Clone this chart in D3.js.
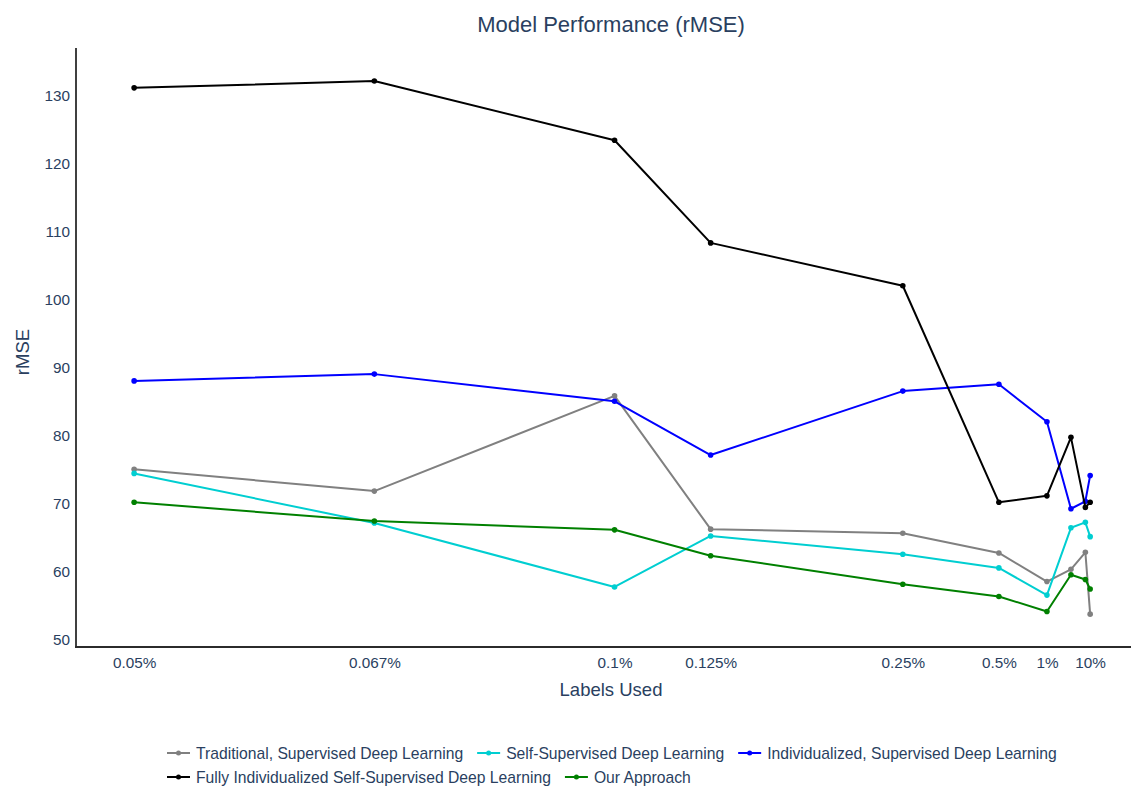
<!DOCTYPE html>
<html>
<head>
<meta charset="utf-8">
<script src="https://cdn.jsdelivr.net/npm/d3@7"></script>
<style>
  body { margin: 0; background: #fff; }
  text { font-family: "Liberation Sans", Arial, sans-serif; fill: #2a3f5f; }
</style>
</head>
<body>
<script>
// x = "1 label in N samples", shown as percentage of labels used
var labelsOneIn = [2000, 1500, 1000, 800, 400, 200, 100, 50, 20, 10];
var tickVals = [2000, 1500, 1000, 800, 400, 200, 100, 10];
var tickLabels = ["0.05%", "0.067%", "0.1%", "0.125%", "0.25%", "0.5%", "1%", "10%"];
var yTicks = [50, 60, 70, 80, 90, 100, 110, 120, 130];

var traditional = [75.1, 71.9, 85.9, 66.3, 65.7, 62.8, 58.6, 60.4, 62.9, 53.8];
var selfSupervised = [74.5, 67.2, 57.8, 65.3, 62.6, 60.6, 56.6, 66.5, 67.3, 65.2];
var individualized = [88.1, 89.1, 85.1, 77.2, 86.6, 87.6, 82.1, 69.3, 70.4, 74.2];
var fullyIndividualized = [131.2, 132.2, 123.5, 108.4, 102.1, 70.25, 71.2, 79.8, 69.5, 70.25];
var ourApproach = [70.25, 67.5, 66.2, 62.4, 58.2, 56.4, 54.2, 59.6, 58.9, 57.5];

var series = [
  {name: "Traditional, Supervised Deep Learning", values: traditional, color: "gray"},
  {name: "Self-Supervised Deep Learning", values: selfSupervised, color: "darkturquoise"},
  {name: "Individualized, Supervised Deep Learning", values: individualized, color: "blue"},
  {name: "Fully Individualized Self-Supervised Deep Learning", values: fullyIndividualized, color: "black"},
  {name: "Our Approach", values: ourApproach, color: "green"}
];

var W = 1133, H = 788;
var plotLeft = 76, plotRight = 1131, plotTop = 48, plotBottom = 647;

var svg = d3.select("body").append("svg")
  .attr("width", W).attr("height", H);

var x = d3.scaleLinear().domain([2121, -75]).range([plotLeft, plotRight]);
var y = d3.scaleLinear().domain([48.97, 137.06]).range([plotBottom, plotTop]);

// axes
var xAxis = d3.axisBottom(x).tickValues(tickVals)
  .tickFormat(function(d, i) { return tickLabels[i]; })
  .tickSize(0).tickPadding(10);
var gx = svg.append("g").attr("transform", "translate(0," + plotBottom + ")").call(xAxis);
gx.select(".domain").remove();
gx.selectAll("text").style("font-size", "15.3px").attr("fill", "#2a3f5f")
  .style("font-family", "'Liberation Sans', Arial, sans-serif");

var yAxis = d3.axisLeft(y).tickValues(yTicks).tickSize(0).tickPadding(6);
var gy = svg.append("g").attr("transform", "translate(" + plotLeft + ",0)").call(yAxis);
gy.select(".domain").remove();
gy.selectAll("text").style("font-size", "15.3px").attr("fill", "#2a3f5f")
  .style("font-family", "'Liberation Sans', Arial, sans-serif");

svg.append("line")
  .attr("x1", plotLeft).attr("x2", plotLeft).attr("y1", plotTop).attr("y2", plotBottom + 1)
  .style("stroke", "black").style("stroke-width", 1.5);
svg.append("line")
  .attr("x1", plotLeft - 1).attr("x2", plotRight).attr("y1", plotBottom).attr("y2", plotBottom)
  .style("stroke", "#2b2b2b").style("stroke-width", 2);

// lines + markers
var line = d3.line()
  .x(function(d, i) { return x(labelsOneIn[i]); })
  .y(function(d) { return y(d); });

series.forEach(function(s) {
  var g = svg.append("g");
  g.append("path")
    .attr("d", line(s.values))
    .attr("fill", "none")
    .style("stroke", s.color)
    .style("stroke-width", 2)
    .style("stroke-linejoin", "round");
  g.selectAll("circle")
    .data(s.values)
    .enter()
    .append("circle")
    .attr("cx", function(d, i) { return x(labelsOneIn[i]); })
    .attr("cy", function(d) { return y(d); })
    .attr("r", 2.8)
    .attr("fill", s.color);
});

// titles
svg.append("text").attr("x", 611).attr("y", 32)
  .attr("text-anchor", "middle").style("font-size", "22px")
  .text("Model Performance (rMSE)");
svg.append("text").attr("x", 611).attr("y", 696)
  .attr("text-anchor", "middle").style("font-size", "18.5px")
  .text("Labels Used");
svg.append("text")
  .attr("transform", "translate(29,352) rotate(-90)")
  .attr("text-anchor", "middle").style("font-size", "18.5px")
  .text("rMSE");

// legend
var rows = [[0, 1, 2], [3, 4]];
var legendX = 167, rowY = [753, 777];
rows.forEach(function(r, ri) {
  var cx = legendX;
  r.forEach(function(idx) {
    var s = series[idx];
    var g = svg.append("g");
    g.append("line")
      .attr("x1", cx).attr("x2", cx + 23).attr("y1", rowY[ri]).attr("y2", rowY[ri])
      .style("stroke", s.color).style("stroke-width", 2);
    g.append("circle").attr("cx", cx + 11.5).attr("cy", rowY[ri]).attr("r", 2.5)
      .attr("fill", s.color);
    var t = g.append("text").attr("x", cx + 29).attr("y", rowY[ri] + 5.5)
      .style("font-size", "15.7px").text(s.name);
    cx = cx + 29 + t.node().getComputedTextLength() + 14;
  });
});
</script>
</body>
</html>
